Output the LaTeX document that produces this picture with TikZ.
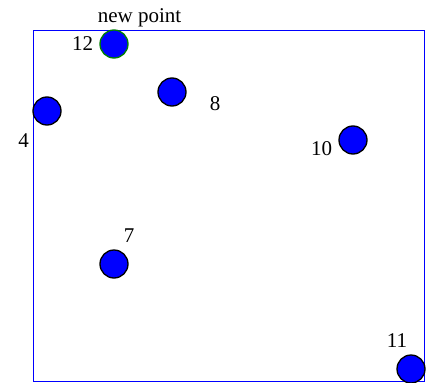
\documentclass[tikz,border=0pt]{standalone}
\usepackage{fontspec}
\setmainfont{Liberation Serif}
\begin{document}
\begin{tikzpicture}[x=1pt,y=-1pt,
  pt/.style={circle,minimum size=28pt,inner sep=0pt,fill=blue,draw=black,line width=1.3pt},
  newpt/.style={pt,draw=green!50!black},
  lbl/.style={inner sep=0pt,anchor=base,font=\fontsize{21}{24}\selectfont}]
\useasboundingbox (0,0) rectangle (429,383);
\draw[blue,line width=1pt] (33,30.5) rectangle (424.5,381.5);
\node[pt] (p4) at (47,111) {};
\node[pt] (p8) at (172,92) {};
\node[pt] (p10) at (353,140) {};
\node[pt] (p7) at (114,264) {};
\node[pt] (p11) at (411,369) {};
\node[newpt] (p12) at (114,44) {};
\node[lbl] (l12) at (82.5,50) {12};
\node[lbl] (l8) at (215,110) {8};
\node[lbl] (l4) at (23.5,147) {4};
\node[lbl] (l10) at (321.5,155) {10};
\node[lbl] (l7) at (129,242) {7};
\node[lbl] (l11) at (397,347) {11};
\node[lbl] (lnew) at (139.5,22) {new point};
\end{tikzpicture}
\end{document}
